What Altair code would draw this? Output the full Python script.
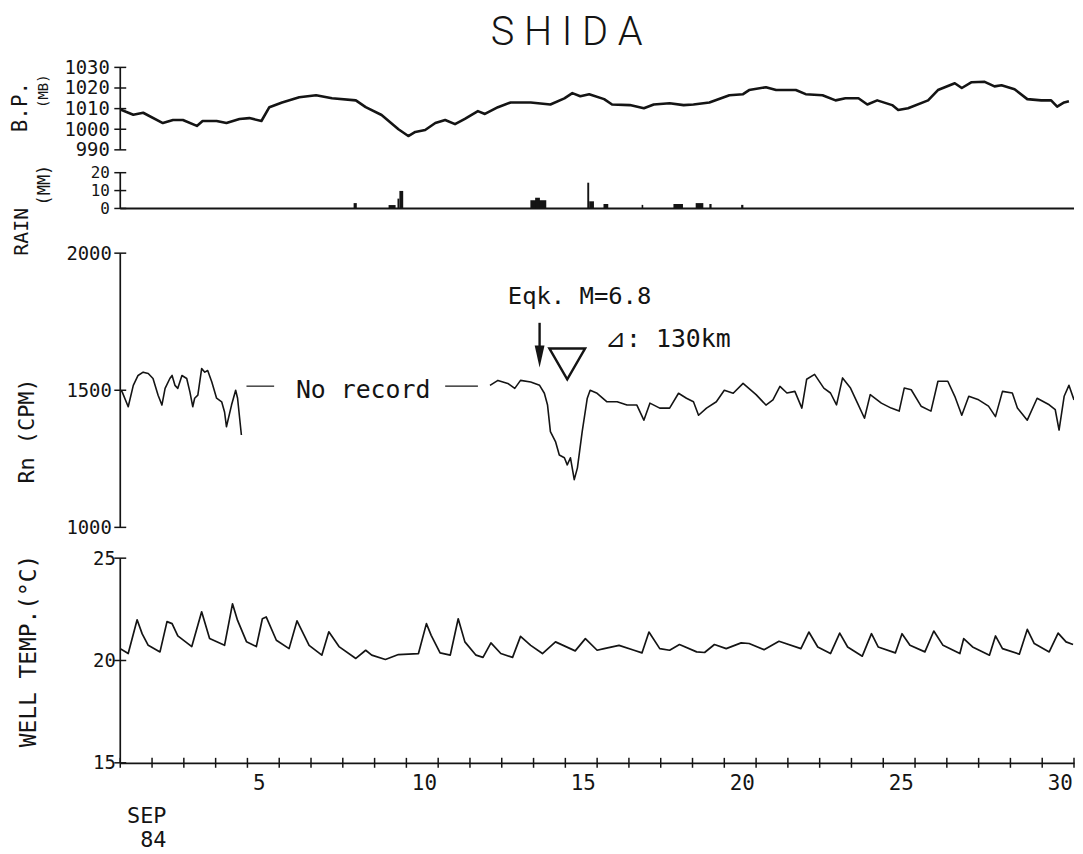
import altair as alt
import pandas as pd

FONT = "DejaVu Sans Mono"
INK = "#141414"

# ---------------- data ----------------
x_domain = [1, 31]
x_tick_days = list(range(1, 32))
x_label_days = [5, 10, 15, 20, 25, 30]

bp_day = [1.0, 1.41, 1.72, 2.34, 2.66, 2.97, 3.41, 3.59, 4.03, 4.34, 4.75, 5.06, 5.44, 5.69,
          6.09, 6.63, 7.16, 7.66, 8.41, 8.72, 9.22, 9.75, 10.06, 10.28, 10.59, 10.91, 11.22,
          11.53, 11.84, 12.25, 12.47, 12.88, 13.28, 13.91, 14.53, 14.97, 15.22, 15.47, 15.75,
          16.22, 16.47, 17.03, 17.47, 17.78, 18.28, 18.72, 19.03, 19.53, 20.16, 20.59, 20.78,
          21.31, 21.63, 22.25, 22.56, 23.09, 23.5, 23.81, 24.22, 24.5, 24.81, 25.28, 25.47,
          25.78, 26.41, 26.72, 27.25, 27.47, 27.78, 28.19, 28.5, 28.72, 29.13, 29.53, 29.97,
          30.28, 30.47, 30.69, 30.84]
bp_mb = [1009.6, 1007.0, 1008.0, 1003.0, 1004.5, 1004.5, 1001.6, 1004.0, 1004.0, 1003.0, 1005.0,
         1005.4, 1004.0, 1010.7, 1013.0, 1015.5, 1016.5, 1015.0, 1014.0, 1010.7, 1006.9, 1000.0,
         996.7, 998.7, 999.6, 1003.0, 1004.5, 1002.5, 1005.0, 1008.8, 1007.4, 1010.7, 1013.0,
         1013.0, 1012.0, 1015.0, 1017.5, 1016.0, 1017.0, 1014.6, 1012.0, 1011.7, 1010.2, 1012.0,
         1012.6, 1011.7, 1012.0, 1013.0, 1016.5, 1017.0, 1019.0, 1020.4, 1019.0, 1019.0, 1017.0,
         1016.5, 1014.0, 1015.0, 1015.0, 1012.0, 1014.0, 1011.7, 1009.3, 1010.2, 1014.0, 1019.0,
         1022.3, 1020.0, 1022.8, 1023.0, 1020.8, 1021.3, 1019.4, 1014.6, 1014.0, 1014.0, 1011.0,
         1013.0, 1013.6]
bp_ticks = [990, 1000, 1010, 1020, 1030]

rain_start = [8.34, 9.44, 9.72, 9.78, 13.90, 14.05, 15.69, 15.75, 16.20, 17.40, 18.40, 19.10, 19.53, 20.53]
rain_end = [8.44, 9.66, 9.78, 9.90, 14.40, 14.20, 15.75, 15.90, 16.35, 17.45, 18.70, 19.34, 19.60, 20.60]
rain_mm = [3.0, 1.9, 5.5, 9.8, 4.6, 6.0, 14.4, 4.0, 2.5, 2.0, 2.5, 3.0, 2.5, 2.0]
rain_ticks = [0, 10, 20]

rn1_day = [1.0, 1.06, 1.25, 1.41, 1.56, 1.72, 1.88, 2.03, 2.19, 2.31, 2.41, 2.56, 2.63, 2.72,
           2.81, 2.94, 3.09, 3.19, 3.28, 3.34, 3.44, 3.56, 3.66, 3.75, 3.88, 4.03, 4.19, 4.28,
           4.34, 4.50, 4.63, 4.69, 4.81]
rn1_cpm = [1500, 1494, 1440, 1518, 1554, 1566, 1561, 1543, 1482, 1446, 1507, 1543, 1554, 1518,
           1507, 1554, 1543, 1494, 1440, 1471, 1482, 1579, 1566, 1572, 1530, 1471, 1458, 1421,
           1367, 1446, 1500, 1471, 1337]
rn2_day = [12.63, 12.88, 13.19, 13.41, 13.59, 13.91, 14.19, 14.34, 14.44, 14.53, 14.69, 14.81,
           14.97, 15.06, 15.16, 15.28, 15.38, 15.53, 15.69, 15.78, 16.0, 16.31, 16.63, 16.94,
           17.25, 17.47, 17.66, 17.97, 18.28, 18.56, 18.81, 19.03, 19.19, 19.44, 19.75, 20.0,
           20.28, 20.59, 21.0, 21.31, 21.53, 21.75, 21.97, 22.22, 22.44, 22.59, 22.84, 23.13,
           23.34, 23.53, 23.72, 23.97, 24.19, 24.41, 24.59, 24.94, 25.25, 25.5, 25.66, 25.88,
           26.19, 26.5, 26.72, 27.03, 27.25, 27.47, 27.69, 28.0, 28.31, 28.53, 28.75, 29.06,
           29.22, 29.53, 29.84, 30.22, 30.41, 30.53, 30.69, 30.84, 31.0]
rn2_cpm = [1518, 1536, 1525, 1507, 1536, 1530, 1518, 1489, 1446, 1349, 1313, 1264,
           1254, 1228, 1254, 1174, 1217, 1349, 1471, 1500, 1489, 1458, 1458, 1446,
           1446, 1391, 1453, 1435, 1435, 1489, 1471, 1458, 1409, 1435, 1458, 1500,
           1489, 1525, 1484, 1446, 1465, 1514, 1490, 1496, 1435, 1540, 1558, 1508,
           1490, 1447, 1545, 1508, 1453, 1398, 1484, 1453, 1435, 1424, 1508, 1502,
           1442, 1424, 1533, 1533, 1478, 1409, 1478, 1465, 1442, 1404, 1496, 1490,
           1435, 1391, 1471, 1447, 1429, 1355, 1478, 1518, 1465]
rn_ticks = [1000, 1500, 2000]

wt_day = [1.0, 1.25, 1.53, 1.69, 1.88, 2.25, 2.47, 2.63, 2.81, 3.25, 3.56, 3.81, 4.28, 4.53,
          4.69, 4.97, 5.28, 5.47, 5.59, 5.91, 6.31, 6.56, 6.94, 7.34, 7.56, 7.88, 8.41, 8.72,
          8.91, 9.34, 9.75, 10.38, 10.63, 10.78, 11.06, 11.38, 11.63, 11.84, 12.19, 12.41,
          12.66, 12.97, 13.34, 13.59, 13.91, 14.28, 14.69, 15.31, 15.63, 16.0, 16.22, 16.69,
          17.16, 17.41, 17.63, 17.97, 18.28, 18.59, 19.13, 19.38, 19.69, 20.06, 20.53, 20.78,
          21.25, 21.72, 22.41, 22.66, 22.94, 23.34, 23.63, 23.88, 24.34, 24.63, 24.84, 25.38,
          25.59, 25.84, 26.31, 26.59, 26.88, 27.41, 27.53, 27.81, 28.34, 28.53, 28.75, 29.28,
          29.53, 29.75, 30.22, 30.5, 30.75, 30.97]
wt_c = [20.58, 20.34, 21.99, 21.30, 20.74, 20.42, 21.90, 21.80, 21.20, 20.68, 22.38, 21.07, 20.74,
        22.77, 21.96, 20.92, 20.68, 22.04, 22.13, 20.99, 20.58, 21.94, 20.74, 20.26, 21.40, 20.68,
        20.10, 20.50, 20.26, 20.05, 20.29, 20.34, 21.80, 21.23, 20.37, 20.26, 22.04, 20.91, 20.26,
        20.15, 20.86, 20.34, 20.15, 21.18, 20.74, 20.34, 20.91, 20.47, 21.07, 20.50, 20.58, 20.74,
        20.50, 20.37, 21.39, 20.58, 20.50, 20.78, 20.42, 20.39, 20.78, 20.58, 20.86, 20.83, 20.53,
        20.94, 20.58, 21.39, 20.66, 20.34, 21.34, 20.66, 20.21, 21.31, 20.66, 20.37, 21.31, 20.74,
        20.42, 21.44, 20.74, 20.34, 21.07, 20.66, 20.26, 21.20, 20.58, 20.31, 21.52, 20.83, 20.42,
        21.34, 20.91, 20.78]
wt_ticks = [15, 20, 25]

# annotations (data coordinates)
norec_text_day, norec_text_cpm = 8.64, 1471
norec_dash_start = [4.97, 11.22]
norec_dash_end = [5.84, 12.25]
norec_dash_cpm = 1515
eqk_day = 14.19
eqk_arrow_top, eqk_arrow_bottom, eqk_head_cpm = 1746, 1645, 1623
onset_day, onset_cpm = 15.06, 1596
eqk_label_day, eqk_label_cpm = 13.19, 1815
dist_label_day, dist_label_cpm = 16.25, 1656

# ---------------- helpers ----------------
W = 960
XS = alt.Scale(domain=x_domain, nice=False, zero=False)


def xenc(field="day", axis=None):
    return alt.X(f"{field}:Q", scale=XS, axis=axis)


def yaxis(vals, pad, size=19):
    return alt.Axis(values=vals, format="d", ticks=False, domain=False, grid=False,
                    labelFont=FONT, labelFontSize=size, labelColor=INK,
                    labelPadding=pad, labelOverlap=False, labelFlush=False, title=None)


def axis_layers(ticks, yscale, yax, xax=None):
    line = alt.Chart(pd.DataFrame({"day": [x_domain[0]], "lo": [min(ticks)], "hi": [max(ticks)]})).mark_rule(
        color=INK, strokeWidth=1.7).encode(
        x=xenc(axis=xax), y=alt.Y("lo:Q", scale=yscale, axis=yax), y2="hi:Q")
    tk = alt.Chart(pd.DataFrame({"v": ticks})).mark_rule(color=INK, strokeWidth=1.5).encode(
        x=alt.value(-6), x2=alt.value(6), y=alt.Y("v:Q", scale=yscale, axis=yax))
    return [line, tk]


def side_text(txt, x, y, size):
    return alt.Chart(pd.DataFrame({"t": [txt]})).mark_text(
        angle=270, font=FONT, fontSize=size, color=INK, align="center", baseline="middle").encode(
        x=alt.value(x), y=alt.value(y), text="t:N")


# ---------------- B.P. ----------------
BP_H = 106
BP_S = alt.Scale(domain=[978.92, 1030], nice=False, zero=False)
BP_A = yaxis(bp_ticks, 11)
bp_line = alt.Chart(pd.DataFrame({"day": bp_day, "mb": bp_mb})).mark_line(
    color=INK, strokeWidth=2.6, strokeJoin="round", clip=True).encode(
    x=xenc(), y=alt.Y("mb:Q", scale=BP_S, axis=BP_A))
bp = alt.layer(bp_line, *axis_layers(bp_ticks, BP_S, BP_A),
               side_text("B.P.", -99.5, 40, 21),
               side_text("(MB)", -76.5, 24, 14)).properties(width=W, height=BP_H)

# ---------------- RAIN ----------------
RA_H = 81
RA_S = alt.Scale(domain=[-25, 20], nice=False, zero=False)
RA_A = yaxis(rain_ticks, 11, 16)
rain_bars = alt.Chart(pd.DataFrame({"s": rain_start, "e": rain_end, "mm": rain_mm})).mark_rect(
    color=INK).encode(x=xenc("s"), x2="e:Q", y=alt.Y("mm:Q", scale=RA_S, axis=RA_A), y2=alt.datum(0))
rain_base = alt.Chart(pd.DataFrame({"day": [x_domain[0]], "e": [x_domain[1]], "mm": [0]})).mark_rule(
    color=INK, strokeWidth=2).encode(x=xenc(), x2="e:Q", y=alt.Y("mm:Q", scale=RA_S, axis=RA_A))
rain = alt.layer(rain_base, rain_bars, *axis_layers(rain_ticks, RA_S, RA_A),
                 side_text("RAIN", -98.5, 59.5, 20),
                 side_text("(MM)", -76, 12.5, 17)).properties(width=W, height=RA_H)

# ---------------- Rn ----------------
RN_H = 307
RN_S = alt.Scale(domain=[887.7, 2000], nice=False, zero=False)
RN_A = yaxis(rn_ticks, 9)
rn_df = pd.DataFrame({
    "day": rn1_day + rn2_day,
    "cpm": rn1_cpm + rn2_cpm,
    "seg": ["a"] * len(rn1_day) + ["b"] * len(rn2_day),
})
rn_line = alt.Chart(rn_df).mark_line(color=INK, strokeWidth=1.6, strokeJoin="round", clip=True).encode(
    x=xenc(), y=alt.Y("cpm:Q", scale=RN_S, axis=RN_A), detail="seg:N")
norec_dash = alt.Chart(pd.DataFrame({"day": norec_dash_start, "e": norec_dash_end,
                                     "cpm": [norec_dash_cpm] * 2})).mark_rule(
    color=INK, strokeWidth=1.2).encode(x=xenc(), x2="e:Q", y=alt.Y("cpm:Q", scale=RN_S, axis=RN_A))
ann_df = pd.DataFrame({
    "day": [norec_text_day, eqk_label_day, dist_label_day],
    "cpm": [norec_text_cpm, eqk_label_cpm, dist_label_cpm],
    "t": ["No record", "Eqk. M=6.8", "\u22bf: 130km"],
})
norec_text = alt.Chart(ann_df.iloc[[0]]).mark_text(
    font=FONT, fontSize=25, color=INK, align="center", baseline="alphabetic").encode(
    x=xenc(), y=alt.Y("cpm:Q", scale=RN_S, axis=RN_A), text="t:N")
eqk_text = alt.Chart(ann_df.iloc[[1]]).mark_text(
    font=FONT, fontSize=24, color=INK, align="left", baseline="alphabetic").encode(
    x=xenc(), y=alt.Y("cpm:Q", scale=RN_S, axis=RN_A), text="t:N")
dist_text = alt.Chart(ann_df.iloc[[2]]).mark_text(
    font=FONT, fontSize=25, color=INK, align="left", baseline="alphabetic").encode(
    x=xenc(), y=alt.Y("cpm:Q", scale=RN_S, axis=RN_A), text="t:N")
arrow_shaft = alt.Chart(pd.DataFrame({"day": [eqk_day], "a": [eqk_arrow_top], "b": [eqk_arrow_bottom]})).mark_rule(
    color=INK, strokeWidth=2.4).encode(x=xenc(), y=alt.Y("a:Q", scale=RN_S, axis=RN_A), y2="b:Q")
arrow_head = alt.Chart(pd.DataFrame({"day": [eqk_day], "cpm": [eqk_head_cpm]})).mark_point(
    shape="M-0.45,-1L0.45,-1L0,1Z", size=484, filled=True, color=INK, opacity=1).encode(
    x=xenc(), y=alt.Y("cpm:Q", scale=RN_S, axis=RN_A))
onset = alt.Chart(pd.DataFrame({"day": [onset_day], "cpm": [onset_cpm]})).mark_point(
    shape="triangle-down", size=1296, filled=False, stroke=INK, strokeWidth=2.4, opacity=1).encode(
    x=xenc(), y=alt.Y("cpm:Q", scale=RN_S, axis=RN_A))
rn = alt.layer(rn_line, norec_dash, norec_text, eqk_text, dist_text, arrow_shaft, arrow_head, onset,
               *axis_layers(rn_ticks, RN_S, RN_A),
               side_text("Rn (CPM)", -94, 179, 22)).properties(width=W, height=RN_H)

# ---------------- WELL TEMP ----------------
WT_H = 206
WT_S = alt.Scale(domain=[15, 25], nice=False, zero=False)
WT_A = yaxis(wt_ticks, 5)
X_AX = alt.Axis(values=x_label_days, ticks=False, domain=True, domainColor=INK, domainWidth=1.7,
                grid=False, labelFont=FONT, labelFontSize=21, labelColor=INK, labelAlign="left",
                labelBaseline="top", labelPadding=10, labelOffset=5, labelFlush=False, labelOverlap=False,
                title=["SEP", "84"], titleFont=FONT, titleFontSize=22, titleFontWeight="normal",
                titleColor=INK, titleAlign="right", titleX=46, titleLineHeight=24,
                titlePadding=12)
wt_line = alt.Chart(pd.DataFrame({"day": wt_day, "c": wt_c})).mark_line(
    color=INK, strokeWidth=1.7, strokeJoin="round", clip=True).encode(
    x=xenc(axis=X_AX), y=alt.Y("c:Q", scale=WT_S, axis=WT_A))
x_ticks = alt.Chart(pd.DataFrame({"day": x_tick_days})).mark_rule(color=INK, strokeWidth=1.5).encode(
    x=xenc(axis=X_AX), y=alt.value(WT_H - 5), y2=alt.value(WT_H + 5))
well = alt.layer(wt_line, x_ticks, *axis_layers(wt_ticks, WT_S, WT_A, X_AX),
                 side_text("WELL TEMP.(\u00b0C)", -91.5, 93.5, 23)).properties(width=W, height=WT_H)

chart = alt.vconcat(bp, rain, rn, well, spacing=0, bounds="flush").properties(
    title=alt.TitleParams("S H I D A", font="Roboto", fontSize=40, fontWeight=300,
                          color=INK, anchor="middle", offset=6, dx=24),
    padding={"left": 2, "top": 2, "right": 0, "bottom": 0},
    background="white",
).configure_view(strokeWidth=0, strokeOpacity=0)

chart.save("out.html", embed_options={"renderer": "svg", "actions": False})
